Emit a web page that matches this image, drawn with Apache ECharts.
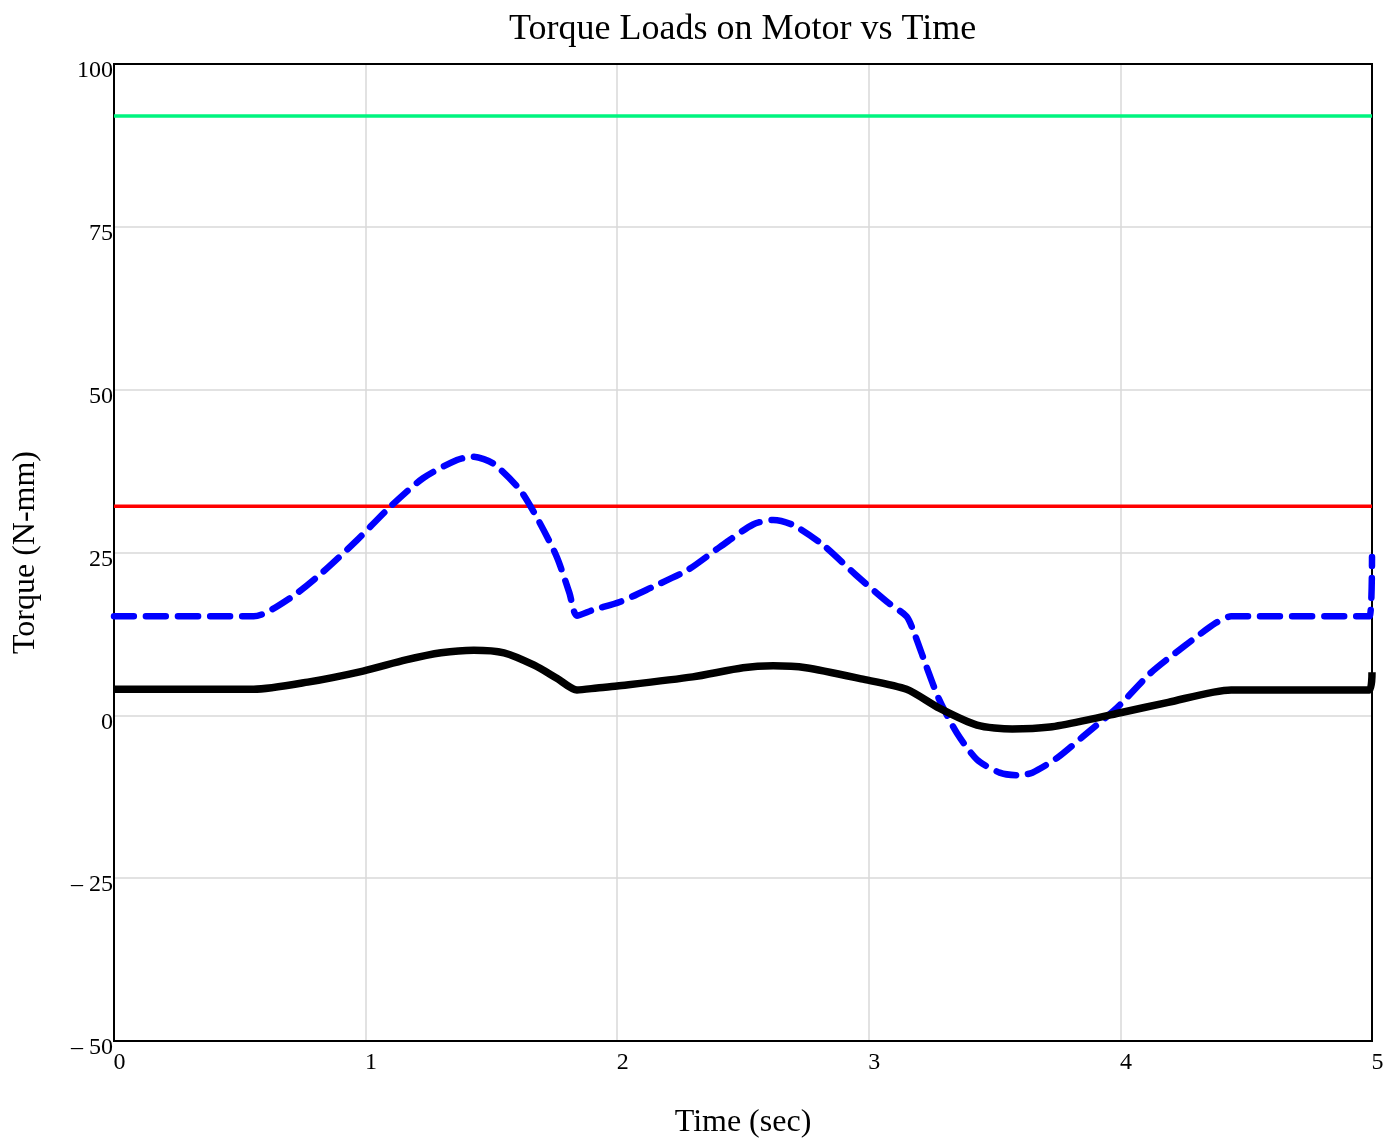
<!DOCTYPE html>
<html>
<head>
<meta charset="utf-8">
<title>Torque Loads on Motor vs Time</title>
<script src="https://cdn.jsdelivr.net/npm/echarts@6/dist/echarts.min.js"></script>
<style>
  html, body { margin: 0; padding: 0; background: #fff; }
  #chart { width: 1386px; height: 1140px; }
</style>
</head>
<body>
<div id="chart"></div>
<script>
// Motor torque load traces, time in seconds, torque in N-mm
const peakTorque = [   // dashed blue: peak torque demand [t, N-mm]
  [0, 15.2], [0.555, 15.2], [0.70, 18.0], [0.83, 22.0], [0.966, 26.9], [1.097, 32.0],
  [1.228, 36.4], [1.363, 39.2], [1.427, 39.7], [1.506, 38.7], [1.614, 34.6],
  [1.693, 29.5], [1.76, 24.3], [1.81, 18.8], [1.84, 15.3], [1.905, 16.2],
  [2.01, 17.4], [2.14, 19.7], [2.28, 22.3], [2.41, 25.9], [2.54, 29.3], [2.62, 30.0],
  [2.70, 29.2], [2.82, 26.1], [2.95, 21.5], [3.08, 17.2], [3.15, 15.2], [3.18, 12.7],
  [3.23, 7.4], [3.28, 2.4], [3.35, -2.7], [3.43, -6.8], [3.52, -8.8], [3.59, -9.2],
  [3.65, -8.8], [3.75, -6.5], [3.85, -3.3], [3.99, 1.3], [4.12, 6.5], [4.25, 10.5],
  [4.38, 14.2], [4.44, 15.2], [4.99, 15.2], [5.0, 24.3]
];
const loadTorque = [   // solid black: running load torque [t, N-mm]
  [0, 4.0], [0.555, 4.0], [0.77, 5.1], [0.99, 6.8], [1.16, 8.5], [1.30, 9.6],
  [1.43, 10.0], [1.55, 9.6], [1.67, 7.7], [1.76, 5.7], [1.84, 3.9], [1.92, 4.2],
  [2.0, 4.5], [2.30, 5.9], [2.50, 7.3], [2.62, 7.6], [2.75, 7.3], [2.97, 5.6],
  [3.15, 4.0], [3.28, 1.1], [3.43, -1.5], [3.57, -2.1], [3.72, -1.8], [3.87, -0.7],
  [4.0, 0.4], [4.19, 2.0], [4.44, 3.9], [4.99, 3.9], [5.0, 6.6]
];
const stallTorque = [[0, 92.0], [5, 92.0]];      // green limit line
const ratedTorque = [[0, 32.1], [5, 32.1]];      // red limit line

const xTickLabels = ['0', '1', '2', '3', '4', '5'];
const yTickValues = [-50, -25, 0, 25, 50, 75, 100];
const yTickLabels = ['\u2013 50', '\u2013 25', '0', '25', '50', '75', '100'];

const serif = '"Liberation Serif", "DejaVu Serif", serif';
const chart = echarts.init(document.getElementById('chart'));

chart.setOption({
  animation: false,
  backgroundColor: '#fff',
  title: {
    text: 'Torque Loads on Motor vs Time',
    left: 504,
    top: 7,
    textStyle: { fontFamily: serif, fontSize: 36, fontWeight: 'normal', color: '#000' }
  },
  grid: {
    left: 114, right: 14, top: 64, bottom: 99,
    outerBoundsMode: 'none', containLabel: false,
    show: true, z: 1, borderColor: '#000', borderWidth: 2, backgroundColor: 'transparent'
  },
  xAxis: {
    type: 'value', min: 0, max: 5, interval: 1,
    name: 'Time (sec)', nameLocation: 'middle', nameGap: 66,
    nameTextStyle: { fontFamily: serif, fontSize: 32, color: '#000' },
    axisLine: { show: false }, axisTick: { show: false },
    axisLabel: {
      fontFamily: serif, fontSize: 24, color: '#000', margin: 10,
      padding: [0, 0, 0, 11],
      formatter: v => xTickLabels[Math.round(v)]
    },
    splitLine: { show: true, lineStyle: { color: '#d9d9d9', width: 1.5 } }
  },
  yAxis: {
    type: 'value', min: -50, max: 100, interval: 25,
    name: 'Torque (N-mm)', nameLocation: 'middle', nameGap: 72,
    nameTextStyle: { fontFamily: serif, fontSize: 32, color: '#000' },
    axisLine: { show: false }, axisTick: { show: false },
    axisLabel: {
      fontFamily: serif, fontSize: 24, color: '#000', margin: 1,
      verticalAlign: 'top', lineHeight: 14,
      formatter: v => yTickLabels[yTickValues.indexOf(v)]
    },
    splitLine: { show: true, lineStyle: { color: '#d9d9d9', width: 1.5 } }
  },
  series: [
    {
      name: 'Stall', type: 'line', data: stallTorque, showSymbol: false,
      lineStyle: { color: '#00f47f', width: 3.5 }, z: 2
    },
    {
      name: 'Rated', type: 'line', data: ratedTorque, showSymbol: false,
      lineStyle: { color: '#ff0000', width: 3.5 }, z: 2
    },
    {
      name: 'Peak', type: 'line', data: peakTorque, showSymbol: false,
      smooth: 0.25,
      lineStyle: { color: '#0000ff', width: 6.5, type: [20, 12], cap: 'round', join: 'round' }, z: 3
    },
    {
      name: 'Load', type: 'line', data: loadTorque, showSymbol: false,
      smooth: 0.25,
      lineStyle: { color: '#000', width: 7.5, join: 'round' }, z: 4
    }
  ]
});
</script>
</body>
</html>
